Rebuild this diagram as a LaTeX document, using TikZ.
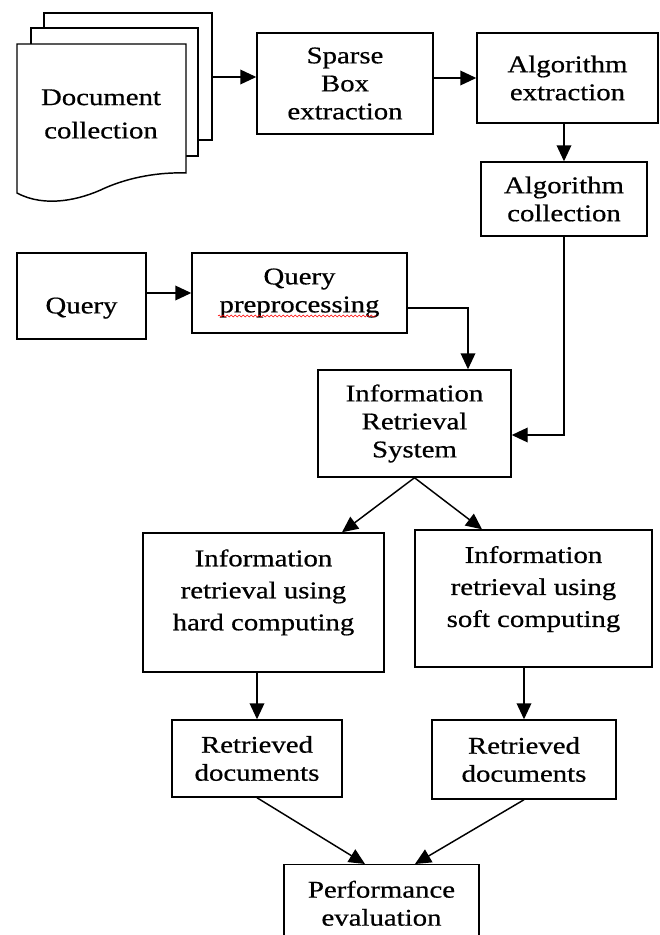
\documentclass[tikz,border=0pt]{standalone}
\usepackage{fontspec}
\setmainfont{Liberation Serif}[FakeStretch=1.2,FakeBold=0.6]
\usetikzlibrary{arrows.meta,decorations.pathmorphing,calc}

\tikzset{
    box/.style={draw, line width=1.1pt, fill=white, align=center,
                font=\fontsize{18}{21}\selectfont, inner sep=2pt},
    sz/.style 2 args={minimum width=#1*0.75pt, minimum height=#2*0.75pt},
    wide/.style={font=\fontsize{18}{24}\selectfont},
    link/.style={line width=1.1pt, -{Triangle[length=12pt,width=11pt]}},
    page/.style={draw, line width=1.1pt, fill=white}
}

\begin{document}
\begin{tikzpicture}[x=0.75pt,y=-0.75pt]
    \useasboundingbox (0,0) rectangle (660,935);
    \clip (0,0) rectangle (660,935);

    % Stack of documents
    \draw[page] (44,13) rectangle (212,140);   % back page
    \draw[page] (31,28) rectangle (198,156);   % middle page
    \draw[page] (17,44) -- (186,44) -- (186,173)
        .. controls (160,172) and (130,177) .. (105,188)
        .. controls (80,200) and (45,208) .. (17,193) -- cycle; % front page
    \node[align=center, font=\fontsize{18}{25}\selectfont] (docs) at (101,114) {Document\\collection};
    \coordinate (docr) at (212,77);  % right side of the stack

    % Boxes
    \node[box, sz={176}{101}] (sparse) at (345,83.5) {Sparse\\Box\\extraction};
    \node[box, sz={181}{90}]  (algext) at (567.5,78) {Algorithm\\extraction};
    \node[box, sz={166}{74}]  (algcol) at (564,199) {Algorithm\\collection};
    \node[box, sz={129}{86}, text height=30pt] (query) at (81.5,296) {Query};
    \node[box, sz={215}{80}]  (qprep) at (299.5,293) {Query\\preprocessing};
    \node[box, sz={193}{107}] (irs) at (414.5,423.5) {Information\\Retrieval\\System};
    \node[box, wide, sz={241}{139}, text depth=19pt] (irhard) at (263.5,602.5)
        {Information\\retrieval using\\hard computing};
    \node[box, wide, sz={237}{137}, text depth=18pt] (irsoft) at (533.5,598.5)
        {Information\\retrieval using\\soft computing};
    \node[box, sz={170}{77}]  (ret1) at (257,758.5) {Retrieved\\documents};
    \node[box, sz={184}{79}]  (ret2) at (524,759.5) {Retrieved\\documents};
    \node[box, anchor=north, minimum width=195*0.75pt, inner ysep=12pt] (perf)
        at (381.5,864) {Performance\\evaluation};

    % Spelling mark under preprocessing
    \draw[red, line width=0.4pt, decorate,
          decoration={snake, amplitude=0.7pt, segment length=3pt}] (218,316) -- (376,316);

    % Connectors
    \draw[link] (docr) -- (docr -| sparse.west);
    \draw[link] (algext.west -| sparse.east) -- (algext.west);
    \draw[link] (algcol.north |- algext.south) -- (algcol.north);
    \draw[link] (query.east |- qprep.west) -- (qprep.west);
    \draw[link] ($(qprep.east)+(0,15)$) -| ($(irs.north)+(53.5,0)$);
    \draw[link] (algcol.south) |- ($(irs.east)+(0,11.5)$);
    \draw[link] (irs.south) -- ($(irhard.north)+(78.5,0)$);
    \draw[link] (irs.south) -- ($(irsoft.north)+(-51.5,0)$);
    \draw[link] (ret1.north |- irhard.south) -- (ret1.north);
    \draw[link] (ret2.north |- irsoft.south) -- (ret2.north);
    \draw[link] (ret1.south) -- ($(perf.north)+(-16.5,0)$);
    \draw[link] (ret2.south) -- ($(perf.north)+(33.5,0)$);
\end{tikzpicture}
\end{document}
